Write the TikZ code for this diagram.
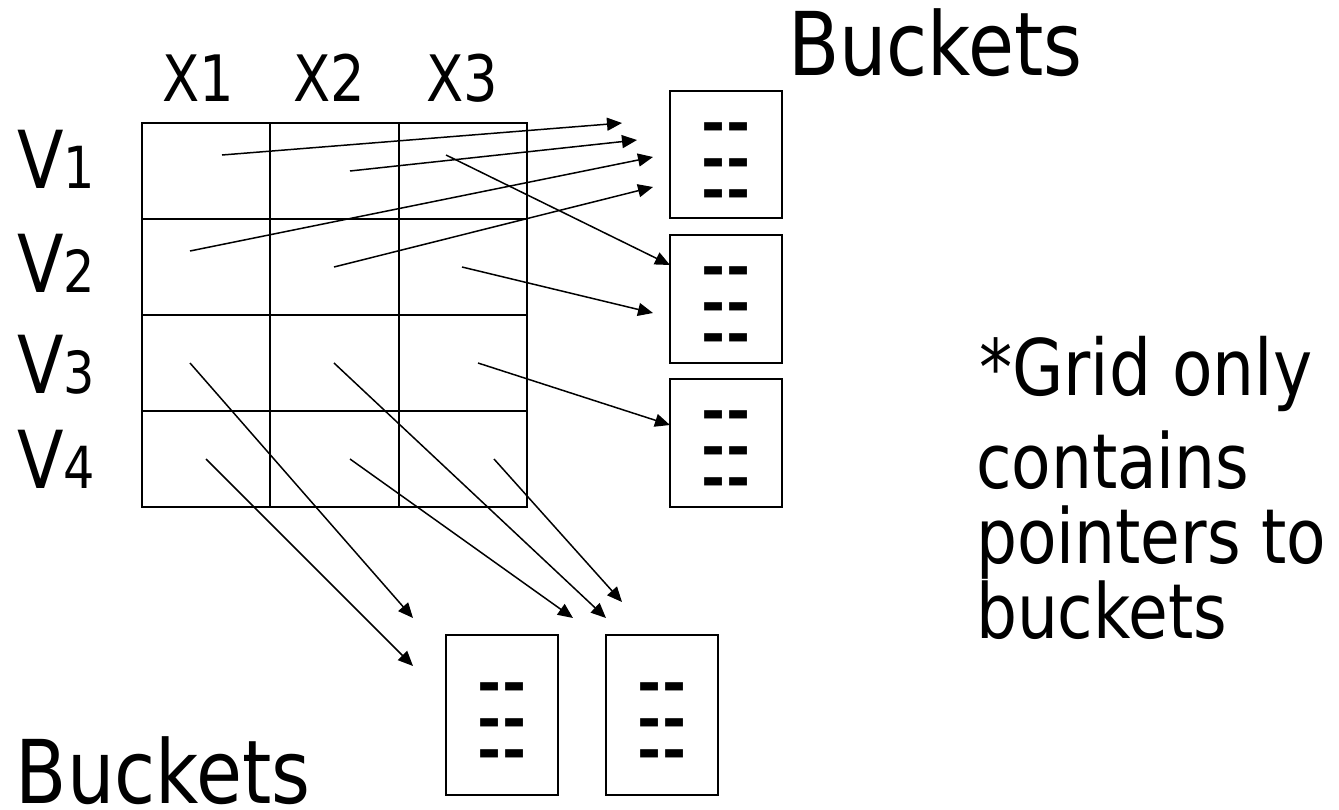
\documentclass[tikz,border=0pt]{standalone}
\usepackage{fontspec}
\setmainfont{DejaVu Sans}[FakeStretch=0.85]
\newfontfamily\dashfont{DejaVu Sans}
\usetikzlibrary{arrows.meta,calc}
\tikzset{
  lbl/.style={inner sep=0pt, outer sep=0pt, anchor=base west},
  cell/.style={draw, line width=2pt, minimum width=128.33pt, minimum height=96pt,
    inner sep=0pt, outer sep=0pt, anchor=north west},
  bucket/.style={draw, line width=2.5pt, inner sep=0pt, outer sep=0pt,
    anchor=north west, minimum width=112pt},
  dashes/.style={inner sep=0pt, outer sep=0pt, anchor=north, align=center,
    font=\dashfont\bfseries\fontsize{58}{33.5}\selectfont},
  ptr/.style={line width=1.5pt, -{Triangle[length=15pt,width=13pt]}},
}
\newcommand{\vlab}[1]{V{\fontsize{58}{58}\selectfont #1}}
\newcommand{\dashlines}{{-}{-}\\[2.5pt]{-}{-}\\[-2.5pt]{-}{-}}
\begin{document}
\begin{tikzpicture}[x=1pt,y=-1pt]
\useasboundingbox (0,0) rectangle (1339,809);

% grid cells
\foreach \r in {1,2,3,4}{
  \foreach \c in {1,2,3}{
    \node[cell] (c\r\c) at ({142+128.33*(\c-1)},{123+96*(\r-1)}) {};
  }
}

% column and row labels
\node[lbl, font=\fontsize{64}{64}\selectfont] (x1) at (162,101) {X1};
\node[lbl, font=\fontsize{64}{64}\selectfont] (x2) at (293,101) {X2};
\node[lbl, font=\fontsize{64}{64}\selectfont] (x3) at (426,101) {X3};
\node[lbl, font=\fontsize{80}{80}\selectfont] (v1) at (17,188) {\vlab{1}};
\node[lbl, font=\fontsize{80}{80}\selectfont] (v2) at (17,292) {\vlab{2}};
\node[lbl, font=\fontsize{80}{80}\selectfont] (v3) at (17,393) {\vlab{3}};
\node[lbl, font=\fontsize{80}{80}\selectfont] (v4) at (17,488) {\vlab{4}};

% buckets
\node[bucket, minimum height=127pt] (b1) at (670,91) {};
\node[bucket, minimum height=128pt] (b2) at (670,235) {};
\node[bucket, minimum height=128pt] (b3) at (670,379) {};
\node[bucket, minimum height=160pt] (b4) at (446,635) {};
\node[bucket, minimum height=160pt] (b5) at (606,635) {};

\foreach \b/\o in {b1/35,b2/35,b3/35,b4/51,b5/51}{
  \node[dashes] (\b-d) at ($(\b.north)+(0,{\o-3.5})$) {\dashlines};
}

% titles and note
\node[lbl, font=\fontsize{88}{88}\selectfont] (tbk) at (788,75) {Buckets};
\node[lbl, font=\fontsize{88}{88}\selectfont] (bbk) at (16,803) {Buckets};
\node[lbl, font=\fontsize{78}{78}\selectfont] (n1) at (979,395) {*Grid only};
\node[lbl, font=\fontsize{76}{76}\selectfont] (n2) at (976,488) {contains};
\node[lbl, font=\fontsize{76}{76}\selectfont] (n3) at (976,563) {pointers to};
\node[lbl, font=\fontsize{76}{76}\selectfont] (n4) at (976,638) {buckets};

% pointer start and end points
\coordinate (s1) at (222,155);  \coordinate (e1) at (622,123);
\coordinate (s2) at (350,171);  \coordinate (e2) at (637,140);
\coordinate (s3) at (190,251);  \coordinate (e3) at (653,157);
\coordinate (s4) at (334,267);  \coordinate (e4) at (653,187);
\coordinate (s5) at (446,155);  \coordinate (e5) at (670,265);
\coordinate (s6) at (462,267);  \coordinate (e6) at (653,313);
\coordinate (s7) at (478,363);  \coordinate (e7) at (670,425);
\coordinate (s8) at (190,363);  \coordinate (e8) at (413,618);
\coordinate (s9) at (206,459);  \coordinate (e9) at (413,666);
\coordinate (s10) at (334,363); \coordinate (e10) at (606,618);
\coordinate (s11) at (350,459); \coordinate (e11) at (573,618);
\coordinate (s12) at (494,459); \coordinate (e12) at (622,602);

\foreach \i in {1,...,12}{
  \draw[ptr] (s\i) -- (e\i);
}
\end{tikzpicture}
\end{document}
